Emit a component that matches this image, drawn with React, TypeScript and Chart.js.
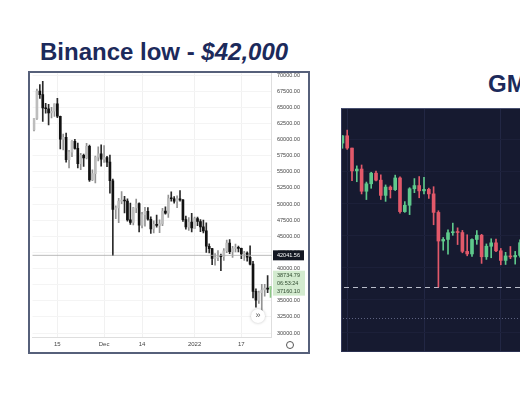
import React, { useEffect, useRef } from "react";
import { Chart, registerables } from "chart.js";

Chart.register(...registerables);

// Daily BTC candles (Nov 7 – Jan 27)
const dates = [
  "Nov 7", "Nov 8", "Nov 9", "Nov 10", "Nov 11", "Nov 12", "Nov 13", "Nov 14", "Nov 15", "Nov 16", "Nov 17", "Nov 18",
  "Nov 19", "Nov 20", "Nov 21", "Nov 22", "Nov 23", "Nov 24", "Nov 25", "Nov 26", "Nov 27", "Nov 28", "Nov 29", "Nov 30",
  "Dec 1", "Dec 2", "Dec 3", "Dec 4", "Dec 5", "Dec 6", "Dec 7", "Dec 8", "Dec 9", "Dec 10", "Dec 11", "Dec 12", "Dec 13",
  "Dec 14", "Dec 15", "Dec 16", "Dec 17", "Dec 18", "Dec 19", "Dec 20", "Dec 21", "Dec 22", "Dec 23", "Dec 24", "Dec 25",
  "Dec 26", "Dec 27", "Dec 28", "Dec 29", "Dec 30", "Dec 31",
  "Jan 1", "Jan 2", "Jan 3", "Jan 4", "Jan 5", "Jan 6", "Jan 7", "Jan 8", "Jan 9", "Jan 10", "Jan 11", "Jan 12", "Jan 13",
  "Jan 14", "Jan 15", "Jan 16", "Jan 17", "Jan 18", "Jan 19", "Jan 20", "Jan 21", "Jan 22", "Jan 23", "Jan 24", "Jan 25",
  "Jan 26", "Jan 27",
];
const opens = [
  61470, 63273, 67525, 66947, 64882, 64774, 64122, 64380, 65519, 63606, 60058, 60344, 56891, 58052, 59707, 58617, 56247,
  57541, 57138, 58960, 53723, 54716, 57274, 57776,
  56951, 57184, 56485, 53601, 49152, 49397, 50441, 50588, 50471, 47535, 47140, 49389, 50053, 46702, 48336, 48864, 47632,
  46133, 46834, 46681, 46914, 48887, 48588, 50839, 50820, 50428, 50809, 50640, 47588, 46444, 47178,
  46217, 47722, 47286, 46446, 45832, 43451, 43082, 41566, 41679, 41865, 41821, 42735, 43950, 42591, 43099, 43177, 43113,
  42250, 42375, 41744, 40680, 36445, 35071, 36244, 36660, 36958, 36808,
];
const highs = [
  63300, 67800, 68530, 69000, 65600, 65450, 64990, 65550, 66400, 63620, 60840, 60977, 58320, 59845, 60029, 59444, 57875,
  57735, 59398, 59150, 55280, 57445, 58865, 59176,
  59053, 57375, 57600, 53859, 49699, 50891, 51936, 51200, 50797, 50125, 49485, 50777, 50189, 48700, 49500, 49436, 47995,
  47392, 48300, 47537, 49328, 49576, 51375, 51868, 51156, 51280, 52088, 50704, 48139, 47900, 48548,
  47954, 47990, 47570, 47505, 47070, 43816, 43145, 42300, 42786, 42248, 43100, 44423, 44500, 43447, 43800, 43478, 43180,
  42675, 42578, 43505, 41100, 36835, 36499, 37550, 37545, 38919, 37234,
];
const lows = [
  61330, 63100, 66380, 62800, 64100, 62280, 63360, 63570, 63400, 58550, 58370, 56474, 55600, 57353, 58486, 55610, 55317,
  55837, 57000, 53500, 53610, 53256, 56666, 55875,
  56458, 55777, 51680, 42000, 47727, 47100, 50039, 48600, 47320, 46852, 46751, 48638, 45672, 46290, 46547, 47511, 45456,
  45500, 46406, 45558, 46630, 48421, 47920, 50450, 50142, 49412, 50450, 47313, 46096, 45900, 45678,
  46208, 46654, 45696, 45502, 42500, 42430, 40610, 40501, 41200, 39650, 41268, 42447, 42311, 41725, 42578, 42581, 41540,
  41250, 41138, 40553, 35440, 34008, 34601, 32917, 35701, 36234, 35507,
];
const closes = [
  63273, 67525, 66947, 64882, 64774, 64122, 64380, 65519, 63606, 60058, 60344, 56891, 58052, 59707, 58617, 56247, 57541,
  57138, 58960, 53726, 54721, 57275, 57776, 56950,
  57184, 56480, 53601, 49152, 49397, 50441, 50588, 50471, 47545, 47140, 49389, 50053, 46702, 48343, 48864, 47632, 46131,
  46834, 46681, 46914, 48889, 48588, 50838, 50821, 50429, 50809, 50640, 47588, 46444, 47178, 46306,
  47722, 47286, 46446, 45832, 43451, 43082, 41566, 41679, 41864, 41822, 42735, 43950, 42591, 43099, 43177, 43113, 42250,
  42375, 41744, 40680, 36445, 35071, 36244, 36660, 36958, 36809, 37160,
];

// Left (Binance) axis
const xTickDates = ["Nov 15", "Dec 1", "Dec 14", "Jan 1", "Jan 17"];
const xTickTexts = ["15", "Dec", "14", "2022", "17"];
const yTicks = [30000, 32500, 35000, 37500, 40000, 42500, 45000, 47500, 50000, 52500, 55000, 57500, 60000, 62500, 65000, 67500, 70000];
const binanceLow = 42041.56;
const statusValues = [38734.79, 37160.1];
const statusTexts = ["38734.79", "06:53:24", "37160.10"];

// Right (GM...) chart
const rightFirst = "Nov 14";
const rightLast = "Dec 28";
const rightGridDates = ["Nov 15", "Dec 1", "Dec 17"];
const rightGridValues = [35000, 40000, 45000, 50000, 55000, 60000, 65000];
const rightLowLine = 42000;
const rightPriceLine = 37160;

const FONT = "'Liberation Sans', Arial, sans-serif";

function leftChartConfig(): any {
  const n = dates.length;
  const isUp = (i: number) => closes[i] >= opens[i];
  const bodyColors = dates.map((_, i) => (i === n - 1 ? "#9fd39a" : isUp(i) ? "#bdbdbd" : "#111111"));
  const wickColors = dates.map((_, i) => (i === n - 1 ? "#8cc886" : isUp(i) ? "#939393" : "#2a2a2a"));
  const overlay = {
    id: "leftOverlay",
    afterDatasetsDraw(chart: any) {
      const { ctx, chartArea: a, scales } = chart;
      const y = scales.y;
      const py = y.getPixelForValue(binanceLow);
      ctx.save();
      ctx.strokeStyle = "#a8a8a8";
      ctx.lineWidth = 0.8;
      ctx.beginPath();
      ctx.moveTo(a.left, py);
      ctx.lineTo(a.right, py);
      ctx.stroke();
      ctx.font = `5.5px ${FONT}`;
      ctx.textBaseline = "middle";
      ctx.fillStyle = "#131722";
      ctx.fillRect(a.right + 1, py - 5, 31, 10);
      ctx.fillStyle = "#ffffff";
      ctx.fillText(binanceLow.toFixed(2), a.right + 5, py);
      const p1 = y.getPixelForValue(statusValues[0]);
      ctx.fillStyle = "#d3ebcf";
      ctx.fillRect(a.right + 1, p1 - 6, 32, 25);
      ctx.fillStyle = "#2f4a2f";
      statusTexts.forEach((t, k) => ctx.fillText(t, a.right + 5, p1 - 1.5 + k * 8));
      ctx.restore();
    },
  };
  return {
    type: "bar",
    data: {
      labels: dates,
      datasets: [
        {
          label: "body",
          data: dates.map((_, i) => [opens[i], closes[i]]),
          backgroundColor: bodyColors,
          borderWidth: 0,
          barThickness: 2,
          minBarLength: 1,
          grouped: false,
          order: 0,
        },
        {
          label: "wick",
          data: dates.map((_, i) => [lows[i], highs[i]]),
          backgroundColor: wickColors,
          borderWidth: 0,
          barThickness: 1,
          grouped: false,
          order: 1,
        },
      ],
    },
    options: {
      animation: false,
      responsive: false,
      maintainAspectRatio: false,
      layout: { padding: 0 },
      plugins: { legend: { display: false }, tooltip: { enabled: false } },
      scales: {
        x: {
          type: "category",
          offset: true,
          grid: {
            offset: false,
            drawTicks: false,
            color: (c: any) => (xTickDates.includes(dates[c.index]) ? "#f1f1f1" : "rgba(0,0,0,0)"),
          },
          border: { display: true, color: "#dedede" },
          ticks: {
            autoSkip: false,
            maxRotation: 0,
            padding: 4,
            color: "#444",
            font: { size: 6, family: FONT },
            callback: (_v: any, i: number) => {
              const k = xTickDates.indexOf(dates[i]);
              return k >= 0 ? xTickTexts[k] : "";
            },
          },
          afterFit: (s: any) => {
            s.height = 13;
          },
        },
        y: {
          type: "linear",
          position: "right",
          min: 29380,
          max: 70264,
          grid: { color: "#f4f4f4", drawTicks: false },
          border: { display: true, color: "#dedede" },
          ticks: {
            padding: 5,
            color: "#444",
            font: { size: 5.5, family: FONT },
            callback: (v: any) => Number(v).toFixed(2),
          },
          afterBuildTicks: (s: any) => {
            s.ticks = yTicks.map((v) => ({ value: v }));
          },
          afterFit: (s: any) => {
            s.width = 34;
          },
        },
      },
    },
    plugins: [overlay],
  };
}

function rightChartConfig(): any {
  const s = dates.indexOf(rightFirst);
  const e = dates.indexOf(rightLast) + 1;
  const rDates = dates.slice(s, e);
  const rO = opens.slice(s, e);
  const rH = highs.slice(s, e);
  const rL = lows.slice(s, e);
  const rC = closes.slice(s, e);
  const colors = rDates.map((_, i) => (rC[i] >= rO[i] ? "#5fc98c" : "#e2596a"));
  const overlay = {
    id: "rightOverlay",
    beforeDatasetsDraw(chart: any) {
      const { ctx, chartArea: a, scales } = chart;
      const y = scales.y;
      ctx.save();
      ctx.strokeStyle = "#b9bdca";
      ctx.lineWidth = 1.2;
      ctx.setLineDash([5, 4]);
      const p1 = Math.round(y.getPixelForValue(rightLowLine)) + 0.5;
      ctx.beginPath();
      ctx.moveTo(a.left + 4, p1);
      ctx.lineTo(a.right, p1);
      ctx.stroke();
      ctx.strokeStyle = "#5d6280";
      ctx.lineWidth = 1;
      ctx.setLineDash([1, 2]);
      const p2 = Math.round(y.getPixelForValue(rightPriceLine)) + 0.5;
      ctx.beginPath();
      ctx.moveTo(a.left, p2);
      ctx.lineTo(a.right, p2);
      ctx.stroke();
      ctx.restore();
    },
  };
  return {
    type: "bar",
    data: {
      labels: rDates,
      datasets: [
        {
          label: "body",
          data: rDates.map((_, i) => [rO[i], rC[i]]),
          backgroundColor: colors,
          borderWidth: 0,
          barThickness: 3,
          minBarLength: 1,
          grouped: false,
          order: 0,
        },
        {
          label: "wick",
          data: rDates.map((_, i) => [rL[i], rH[i]]),
          backgroundColor: colors,
          borderWidth: 0,
          barThickness: 1,
          grouped: false,
          order: 1,
        },
      ],
    },
    options: {
      animation: false,
      responsive: false,
      maintainAspectRatio: false,
      layout: { padding: 0 },
      plugins: { legend: { display: false }, tooltip: { enabled: false } },
      scales: {
        x: {
          type: "category",
          offset: true,
          grid: {
            offset: false,
            drawTicks: false,
            color: (c: any) => (rightGridDates.includes(rDates[c.index]) ? "#222744" : "rgba(0,0,0,0)"),
          },
          border: { display: false },
          ticks: { display: false },
        },
        y: {
          type: "linear",
          min: 32047,
          max: 69683,
          grid: { color: "#1c2039", drawTicks: false },
          border: { display: false },
          ticks: { display: false },
          afterBuildTicks: (sc: any) => {
            sc.ticks = rightGridValues.map((v) => ({ value: v }));
          },
        },
      },
    },
    plugins: [overlay],
  };
}

export default function App() {
  const leftRef = useRef<HTMLCanvasElement | null>(null);
  const rightRef = useRef<HTMLCanvasElement | null>(null);

  useEffect(() => {
    const c1 = new Chart(leftRef.current as HTMLCanvasElement, leftChartConfig());
    const c2 = new Chart(rightRef.current as HTMLCanvasElement, rightChartConfig());
    return () => {
      c1.destroy();
      c2.destroy();
    };
  }, []);

  const titleStyle: React.CSSProperties = {
    position: "absolute",
    fontFamily: FONT,
    fontWeight: 700,
    fontSize: 24,
    lineHeight: "24px",
    color: "#1c2a5b",
    whiteSpace: "nowrap",
  };

  return (
    <div
      style={{
        position: "fixed",
        left: 0,
        top: 0,
        width: 520,
        height: 400,
        overflow: "hidden",
        background: "#ffffff",
        fontFamily: FONT,
      }}
    >
      <div style={{ ...titleStyle, left: 40, top: 40 }}>
        Binance low - <i>$42,000</i>
      </div>
      <div style={{ ...titleStyle, left: 488, top: 72 }}>GMX low</div>

      {/* Left chart frame */}
      <div
        style={{
          position: "absolute",
          left: 28,
          top: 71,
          width: 278,
          height: 279,
          border: "2px solid #56607a",
          background: "#ffffff",
        }}
      />
      <canvas
        ref={leftRef}
        width={276}
        height={285}
        style={{ position: "absolute", left: 30, top: 65, width: 276, height: 285 }}
      />
      <div
        style={{
          position: "absolute",
          left: 251,
          top: 309,
          width: 14,
          height: 14,
          borderRadius: 7,
          background: "#fff",
          boxShadow: "0 0 3px rgba(0,0,0,0.25)",
          fontSize: 9,
          lineHeight: "13px",
          textAlign: "center",
          color: "#555",
        }}
      >
        »
      </div>
      <div
        style={{
          position: "absolute",
          left: 286,
          top: 341,
          width: 6,
          height: 6,
          borderRadius: 4,
          border: "1px solid #555",
        }}
      />

      {/* Right chart panel */}
      <div
        style={{
          position: "absolute",
          left: 341,
          top: 108,
          width: 220,
          height: 242,
          background: "#161a30",
          borderTop: "1px solid #485070",
          borderLeft: "1px solid #353b5c",
          borderBottom: "1px solid #2a3050",
          overflow: "hidden",
        }}
      >
        <canvas
          ref={rightRef}
          width={216}
          height={242}
          style={{ position: "absolute", left: -2.4, top: 0, width: 216, height: 242 }}
        />
      </div>
    </div>
  );
}
